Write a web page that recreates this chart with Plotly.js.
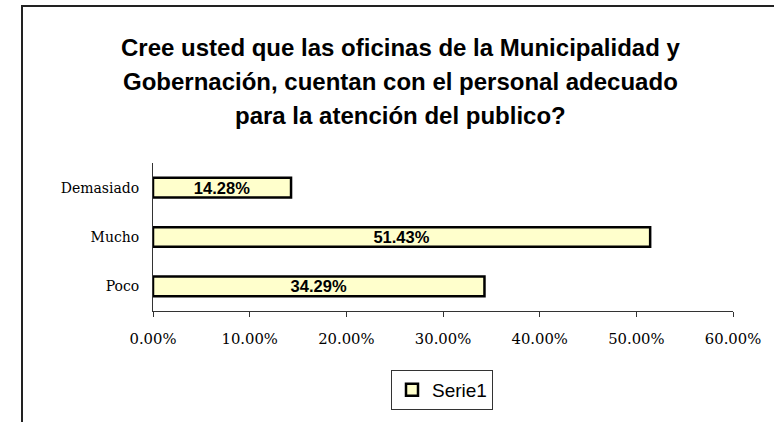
<!DOCTYPE html>
<html>
<head>
<meta charset="utf-8">
<script src="https://cdn.plot.ly/plotly-3.0.1.min.js"></script>
<style>
  html, body { margin: 0; padding: 0; background: #fff; }
  #chart { width: 774px; height: 422px; }
</style>
</head>
<body>
<div id="chart"></div>
<script>
// Chart data
var categories = ['Poco', 'Mucho', 'Demasiado'];
var values = [0.3429, 0.5143, 0.1428];
var seriesName = 'Serie1';
var titleLines = [
    'Cree usted que las oficinas de la Municipalidad y',
    'Gobernación, cuentan con el personal adecuado',
    'para la atención del publico?'
];
var tickValues = [0, 0.1, 0.2, 0.3, 0.4, 0.5, 0.6];

var trace = [{
    type: 'bar',
    orientation: 'h',
    name: seriesName,
    y: categories,
    x: values,
    marker: {
        color: '#ffffcc',
        line: { color: '#000', width: 2.5 }
    },
    texttemplate: '%{x:.2%}',
    textposition: 'inside',
    insidetextanchor: 'middle',
    constraintext: 'none',
    textangle: 0,
    textfont: { family: 'Liberation Sans, Arial, sans-serif', size: 16.5, color: '#000', weight: 'bold' },
    showlegend: true,
    hoverinfo: 'none'
}];

// title as separate lines (Excel spacing is wider than plotly's <br>)
var titleY = [47, 82, 115];
var annotations = titleLines.map(function (line, i) {
    return {
        text: '<b>' + line + '</b>',
        xref: 'paper', yref: 'paper',
        x: (400 - 153) / 580,
        y: (311 - titleY[i]) / 148,
        xanchor: 'center', yanchor: 'middle',
        showarrow: false,
        font: { family: 'Liberation Sans, Arial, sans-serif', size: 24, color: '#000' }
    };
});

var layout = {
    width: 774,
    height: 422,
    margin: { l: 153, r: 41, t: 163, b: 111 },
    paper_bgcolor: '#fff',
    plot_bgcolor: '#fff',
    font: { family: 'DejaVu Serif, serif', size: 14, color: '#000' },
    bargap: 0.6,
    xaxis: {
        range: [0, 0.6],
        tickvals: tickValues,
        tickformat: '.2%',
        showgrid: false,
        zeroline: false,
        showline: true,
        linecolor: '#333',
        linewidth: 1,
        ticks: 'outside',
        ticklen: 5,
        tickcolor: '#333',
        ticklabelstandoff: 9,
        tickfont: { family: 'DejaVu Serif, serif', size: 14.8, color: '#000' },
        fixedrange: true
    },
    yaxis: {
        showgrid: false,
        zeroline: false,
        showline: true,
        linecolor: '#333',
        linewidth: 1,
        ticks: '',
        ticklabelstandoff: 10,
        tickfont: { family: 'DejaVu Serif, serif', size: 14, color: '#000' },
        fixedrange: true
    },
    showlegend: true,
    legend: {
        x: (442 - 153) / 580,
        y: (311 - 390) / 148,
        xanchor: 'center',
        yanchor: 'middle',
        bgcolor: '#fff',
        bordercolor: '#333',
        borderwidth: 1,
        itemwidth: 30,
        font: { family: 'Liberation Sans, Arial, sans-serif', size: 19, color: '#000' }
    },
    annotations: annotations,
    shapes: [{
        type: 'path',
        xref: 'paper', yref: 'paper',
        path: 'M ' + ((22 - 153) / 580) + ' ' + ((311 - 430) / 148) +
              ' L ' + ((22 - 153) / 580) + ' ' + ((311 - 6) / 148) +
              ' L ' + ((790 - 153) / 580) + ' ' + ((311 - 6) / 148),
        line: { color: '#222', width: 2 }
    }]
};

Plotly.newPlot('chart', trace, layout, { staticPlot: true, displayModeBar: false });
</script>
</body>
</html>
